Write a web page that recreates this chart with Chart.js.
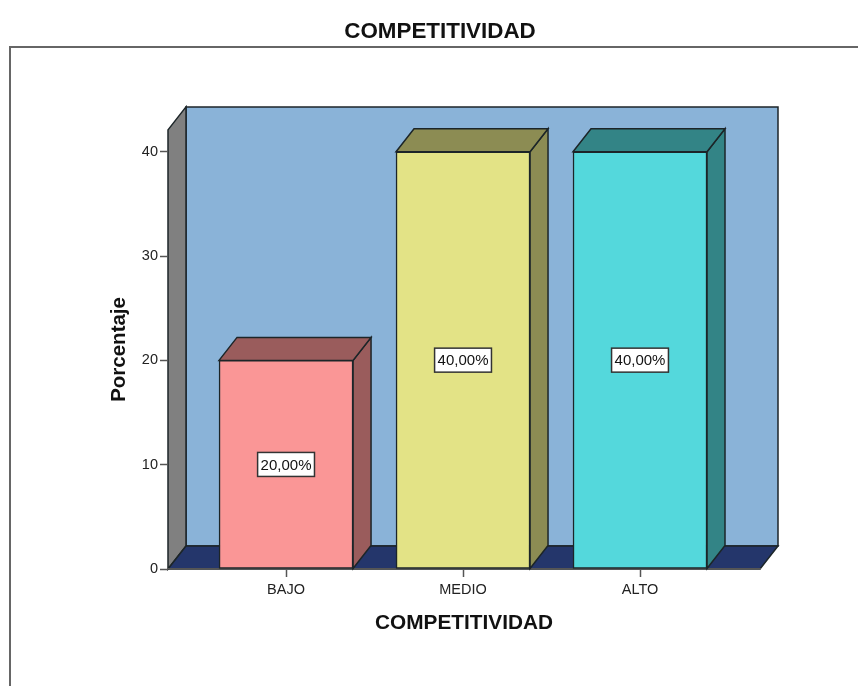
<!DOCTYPE html>
<html><head><meta charset="utf-8">
<style>html,body{margin:0;padding:0;background:#fff}#w{width:858px;height:686px}</style>
<script src="https://cdn.jsdelivr.net/npm/chart.js@4"></script></head>
<body><div id="w"><canvas id="c" width="858" height="686"></canvas></div>
<script>
const categories = ['BAJO', 'MEDIO', 'ALTO'];
const values = [20, 40, 40];
const valueLabels = ['20,00%', '40,00%', '40,00%'];
const yTicks = [0, 10, 20, 30, 40];
const xTicks = [0, 1, 2];
const frontColors = ['#FA9696', '#E3E386', '#54D8DC'];
const sideColors = ['#9A5C5C', '#8C8C53', '#338486'];
const DX = 18, DY = 23, FONT = '"Liberation Sans", Arial, sans-serif';

function poly(ctx, pts, fill, stroke) {
  ctx.beginPath();
  pts.forEach((p, i) => i ? ctx.lineTo(p[0], p[1]) : ctx.moveTo(p[0], p[1]));
  ctx.closePath();
  ctx.fillStyle = fill; ctx.fill();
  ctx.lineWidth = 1.5; ctx.strokeStyle = stroke; ctx.stroke();
}
const depth3d = {
  id: 'depth3d',
  beforeDraw(chart) {
    const { ctx, chartArea: a } = chart;
    ctx.save();
    ctx.strokeStyle = '#666'; ctx.lineWidth = 2;
    ctx.beginPath(); ctx.moveTo(10, 686); ctx.lineTo(10, 47); ctx.lineTo(858, 47); ctx.stroke();
    const K = '#1c2528';
    poly(ctx, [[a.left + DX, a.top - DY], [a.right + DX, a.top - DY], [a.right + DX, a.bottom - DY], [a.left + DX, a.bottom - DY]], '#8AB3D8', K);
    poly(ctx, [[a.left, a.top], [a.left + DX, a.top - DY], [a.left + DX, a.bottom - DY], [a.left, a.bottom]], '#808080', K);
    poly(ctx, [[a.left, a.bottom], [a.left + DX, a.bottom - DY], [a.right + DX, a.bottom - DY], [a.right, a.bottom]], '#24366B', K);
    ctx.restore();
  },
  beforeDatasetsDraw(chart) {
    const ctx = chart.ctx, K = '#1c2528';
    ctx.save();
    chart.getDatasetMeta(0).data.forEach((b, i) => {
      const l = b.x - b.width / 2, r = b.x + b.width / 2, t = b.y, bt = b.base;
      poly(ctx, [[r, t], [r + DX, t - DY], [r + DX, bt - DY], [r, bt]], sideColors[i], K);
      poly(ctx, [[l, t], [l + DX, t - DY], [r + DX, t - DY], [r, t]], sideColors[i], K);
    });
    ctx.restore();
  },
  afterDatasetsDraw(chart) {
    const ctx = chart.ctx;
    ctx.save();
    ctx.font = '15px ' + FONT; ctx.textAlign = 'center'; ctx.textBaseline = 'middle';
    chart.getDatasetMeta(0).data.forEach((b, i) => {
      const cy = (b.y + b.base) / 2, w = ctx.measureText(valueLabels[i]).width + 6, h = 24;
      ctx.fillStyle = '#fff'; ctx.fillRect(b.x - w / 2, cy - h / 2, w, h);
      ctx.strokeStyle = '#333'; ctx.lineWidth = 1.5; ctx.strokeRect(b.x - w / 2, cy - h / 2, w, h);
      ctx.fillStyle = '#111'; ctx.fillText(valueLabels[i], b.x, cy + 1);
    });
    ctx.restore();
  }
};
new Chart(document.getElementById('c'), {
  type: 'bar',
  data: { datasets: [{
    data: categories.map((c, i) => ({ x: xTicks[i], y: values[i] })),
    backgroundColor: frontColors, borderColor: '#1c2528', borderWidth: 1.5, borderSkipped: false, barThickness: 134
  }] },
  plugins: [depth3d],
  options: {
    responsive: false, animation: false,
    layout: { padding: { left: 22, right: 0, top: 18, bottom: 0 } },
    plugins: {
      legend: { display: false }, tooltip: { enabled: false },
      title: { display: true, text: 'COMPETITIVIDAD', color: '#111', font: { family: FONT, size: 22.4, weight: 'bold' }, padding: { top: 0, bottom: 85 } }
    },
    scales: {
      x: {
        type: 'linear', offset: false, min: -0.667, max: 2.678,
        afterBuildTicks: s => { s.ticks = xTicks.map(v => ({ value: v })); },
        afterFit: s => { s.height = 117; },
        ticks: { callback: v => categories[v], color: '#222', font: { family: FONT, size: 14.5 }, maxRotation: 0, autoSkip: false, padding: 4 },
        grid: { display: true, offset: false, drawOnChartArea: false, tickLength: 8, color: '#555', tickWidth: 1.5 },
        border: { display: true, color: '#555', width: 1.5 },
        title: { display: true, text: 'COMPETITIVIDAD', color: '#111', font: { family: FONT, size: 20.8, weight: 'bold' }, padding: { top: 0, bottom: 50 } }
      },
      y: {
        min: 0, max: 42.1,
        afterBuildTicks: s => { s.ticks = yTicks.map(v => ({ value: v })); },
        afterFit: s => { s.width = 146; },
        ticks: { color: '#222', font: { family: FONT, size: 14.5 }, padding: 2 },
        grid: { display: true, drawOnChartArea: false, tickLength: 8, color: '#555', tickWidth: 1.5 },
        border: { display: false },
        title: { display: true, text: 'Porcentaje', color: '#111', font: { family: FONT, size: 20.5, weight: 'bold' }, padding: { top: 85, bottom: 0 } }
      },
      spacer: {
        type: 'linear', position: 'right',
        afterFit: s => { s.width = 98; },
        ticks: { display: false }, grid: { display: false }, border: { display: false }
      }
    }
  }
});
</script></body></html>
